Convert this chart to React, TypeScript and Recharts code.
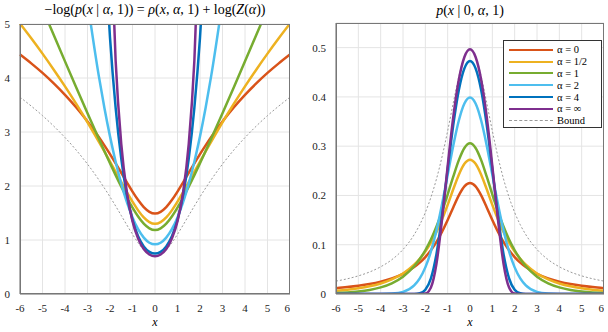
import { LineChart, Line, XAxis, YAxis, CartesianGrid } from 'recharts';

// x positions shared by both panels
const xs = [-6, -5.5, -5, -4.5, -4, -3.5, -3, -2.5, -2.25, -2, -1.75, -1.5, -1.25, -1, -0.75, -0.5, -0.25, 0,
  0.25, 0.5, 0.75, 1, 1.25, 1.5, 1.75, 2, 2.25, 2.5, 3, 3.5, 4, 4.5, 5, 5.5, 6];

// left panel: negative log likelihood
const nll0 = [4.435, 4.271, 4.094, 3.9, 3.688, 3.455, 3.196, 2.908, 2.753, 2.59, 2.42, 2.245, 2.068, 1.896, 1.739, 1.609, 1.522, 1.491,
  1.522, 1.609, 1.739, 1.896, 2.068, 2.245, 2.42, 2.59, 2.753, 2.908, 3.196, 3.455, 3.688, 3.9, 4.094, 4.271, 4.435];
const nllHalf = [5.008, 4.735, 4.451, 4.154, 3.845, 3.52, 3.18, 2.823, 2.639, 2.452, 2.262, 2.072, 1.886, 1.709, 1.549, 1.418, 1.331, 1.3,
  1.331, 1.418, 1.549, 1.709, 1.886, 2.072, 2.262, 2.452, 2.639, 2.823, 3.18, 3.52, 3.845, 4.154, 4.451, 4.735, 5.008];
const nll1 = [6.268, 5.775, 5.284, 4.795, 4.308, 3.825, 3.347, 2.878, 2.647, 2.421, 2.201, 1.988, 1.786, 1.599, 1.435, 1.303, 1.216, 1.185,
  1.216, 1.303, 1.435, 1.599, 1.786, 1.988, 2.201, 2.421, 2.647, 2.878, 3.347, 3.825, 4.308, 4.795, 5.284, 5.775, 6.268];
const nll2 = [null, null, null, null, null, null, 5.419, 4.044, 3.45, 2.919, 2.45, 2.044, 1.7, 1.419, 1.2, 1.044, 0.95, 0.919,
  0.95, 1.044, 1.2, 1.419, 1.7, 2.044, 2.45, 2.919, 3.45, 4.044, 5.419, null, null, null, null, null, null];
const nll4 = [null, null, null, null, null, null, null, null, 6.484, 4.749, 3.453, 2.507, 1.835, 1.374, 1.07, 0.882, 0.781, 0.749,
  0.781, 0.882, 1.07, 1.374, 1.835, 2.507, 3.453, 4.749, 6.484, null, null, null, null, null, null, null, null];
const nllInf = [null, null, null, null, null, null, null, null, null, 7.089, 4.324, 2.78, 1.884, 1.349, 1.025, 0.833, 0.732, 0.7,
  0.732, 0.833, 1.025, 1.349, 1.884, 2.78, 4.324, 7.089, null, null, null, null, null, null, null, null, null];
const nllBound = [3.644, 3.48, 3.303, 3.109, 2.897, 2.664, 2.405, 2.117, 1.962, 1.799, 1.629, 1.454, 1.277, 1.106, 0.948, 0.818, 0.731, 0.7,
  0.731, 0.818, 0.948, 1.106, 1.277, 1.454, 1.629, 1.799, 1.962, 2.117, 2.405, 2.664, 2.897, 3.109, 3.303, 3.48, 3.644];

// right panel: densities
const p0 = [0.0118, 0.014, 0.0167, 0.0202, 0.025, 0.0316, 0.0409, 0.0546, 0.0637, 0.075, 0.0889, 0.1059, 0.1264, 0.1501, 0.1757, 0.2001, 0.2183, 0.2251,
  0.2183, 0.2001, 0.1757, 0.1501, 0.1264, 0.1059, 0.0889, 0.075, 0.0637, 0.0546, 0.0409, 0.0316, 0.025, 0.0202, 0.0167, 0.014, 0.0118];
const pHalf = [0.0067, 0.0088, 0.0117, 0.0157, 0.0214, 0.0296, 0.0416, 0.0594, 0.0714, 0.0861, 0.1041, 0.1259, 0.1517, 0.181, 0.2125, 0.2422, 0.2642, 0.2725,
  0.2642, 0.2422, 0.2125, 0.181, 0.1517, 0.1259, 0.1041, 0.0861, 0.0714, 0.0594, 0.0416, 0.0296, 0.0214, 0.0157, 0.0117, 0.0088, 0.0067];
const p1 = [0.0019, 0.0031, 0.0051, 0.0083, 0.0135, 0.0218, 0.0352, 0.0562, 0.0709, 0.0888, 0.1107, 0.137, 0.1676, 0.2021, 0.2381, 0.2717, 0.2964, 0.3057,
  0.2964, 0.2717, 0.2381, 0.2021, 0.1676, 0.137, 0.1107, 0.0888, 0.0709, 0.0562, 0.0352, 0.0218, 0.0135, 0.0083, 0.0051, 0.0031, 0.0019];
const p2 = [0, 0, 0, 0, 0.0001, 0.0009, 0.0044, 0.0175, 0.0317, 0.054, 0.0863, 0.1295, 0.1826, 0.242, 0.3011, 0.3521, 0.3867, 0.3989,
  0.3867, 0.3521, 0.3011, 0.242, 0.1826, 0.1295, 0.0863, 0.054, 0.0317, 0.0175, 0.0044, 0.0009, 0.0001, 0, 0, 0, 0];
const p4 = [0, 0, 0, 0, 0, 0, 0, 0.0002, 0.0015, 0.0087, 0.0316, 0.0815, 0.1596, 0.2531, 0.343, 0.414, 0.458, 0.4729,
  0.458, 0.414, 0.343, 0.2531, 0.1596, 0.0815, 0.0316, 0.0087, 0.0015, 0.0002, 0, 0, 0, 0, 0, 0, 0];
const pInf = [0, 0, 0, 0, 0, 0, 0, 0, 0, 0.0008, 0.0132, 0.062, 0.152, 0.2595, 0.3588, 0.4347, 0.481, 0.4966,
  0.481, 0.4347, 0.3588, 0.2595, 0.152, 0.062, 0.0132, 0.0008, 0, 0, 0, 0, 0, 0, 0, 0, 0];
const pBound = [0.0261, 0.0308, 0.0368, 0.0446, 0.0552, 0.0697, 0.0903, 0.1204, 0.1406, 0.1655, 0.1962, 0.2337, 0.2788, 0.3311, 0.3876, 0.4414, 0.4815, 0.4966,
  0.4815, 0.4414, 0.3876, 0.3311, 0.2788, 0.2337, 0.1962, 0.1655, 0.1406, 0.1204, 0.0903, 0.0697, 0.0552, 0.0446, 0.0368, 0.0308, 0.0261];

const xTicks = [-6, -5, -4, -3, -2, -1, 0, 1, 2, 3, 4, 5, 6];
const leftTicks = [0, 1, 2, 3, 4, 5];
const rightTicks = [0, 0.1, 0.2, 0.3, 0.4, 0.5];

const seriesKeys = ['a0', 'aHalf', 'a1', 'a2', 'a4', 'aInf'];
const seriesLabels = ['α = 0', 'α = 1/2', 'α = 1', 'α = 2', 'α = 4', 'α = ∞'];
const colors = ['#D95319', '#EDB120', '#77AC30', '#4DBEEE', '#0072BD', '#7E2F8E'];

const leftData = xs.map((x, i) => ({
  x, bound: nllBound[i], a0: nll0[i], aHalf: nllHalf[i], a1: nll1[i], a2: nll2[i], a4: nll4[i], aInf: nllInf[i],
}));
const rightData = xs.map((x, i) => ({
  x, bound: pBound[i], a0: p0[i], aHalf: pHalf[i], a1: p1[i], a2: p2[i], a4: p4[i], aInf: pInf[i],
}));

const FONT = '"Liberation Serif", "DejaVu Serif", serif';
const tick = { fontSize: 11, fill: '#222', fontFamily: FONT };

function Panel({ data, ticks, domain, yWidth, width, top }: any) {
  return (
    <LineChart width={width} height={332} data={data} margin={{ top, right: 0, left: 0, bottom: 0 }}>
      <CartesianGrid stroke="#e4e4e4" />
      <XAxis dataKey="x" type="number" domain={[-6, 6]} ticks={xTicks} height={38}
        tick={tick} tickLine={false} axisLine={{ stroke: '#777' }} tickMargin={4} />
      <YAxis type="number" domain={domain} ticks={ticks} allowDataOverflow width={yWidth}
        tick={tick} tickLine={false} axisLine={{ stroke: '#777' }} tickMargin={4} />
      <Line dataKey="bound" stroke="#999" strokeWidth={1} strokeDasharray="2 2" dot={false}
        type="monotone" isAnimationActive={false} />
      {seriesKeys.map((k, i) => (
        <Line key={k} dataKey={k} stroke={colors[i]} strokeWidth={2.5} dot={false}
          type="monotone" isAnimationActive={false} />
      ))}
    </LineChart>
  );
}

export default function App() {
  return (
    <div style={{ position: 'absolute', left: 0, top: 0, width: 608, height: 332, background: '#fff', fontFamily: FONT }}>
      <div style={{ position: 'absolute', left: 0, top: 0, width: 300 }}>
        <Panel data={leftData} ticks={leftTicks} domain={[0, 5]} yWidth={20} width={300 - 10} top={24} />
      </div>
      <div style={{ position: 'absolute', left: 310, top: 0 }}>
        <Panel data={rightData} ticks={rightTicks} domain={[0, 0.55]} yWidth={26} width={294} top={23} />
      </div>
      {/* box frames */}
      <div style={{ position: 'absolute', left: 20, top: 24, width: 270, height: 270, border: '1px solid #777', boxSizing: 'border-box', pointerEvents: 'none' }} />
      <div style={{ position: 'absolute', left: 336, top: 23, width: 268, height: 271, border: '1px solid #777', boxSizing: 'border-box', pointerEvents: 'none' }} />
      {/* titles */}
      <div style={{ position: 'absolute', left: 20, width: 270, top: 2, textAlign: 'center', fontSize: 14, whiteSpace: 'nowrap' }}>
        −log(<i>p</i>(<i>x</i> | <i>α</i>, 1)) = <i>ρ</i>(<i>x</i>, <i>α</i>, 1) + log(<i>Z</i>(<i>α</i>))
      </div>
      <div style={{ position: 'absolute', left: 336, width: 268, top: 3, textAlign: 'center', fontSize: 14 }}>
        <i>p</i>(<i>x</i> | 0, <i>α</i>, 1)
      </div>
      <div style={{ position: 'absolute', left: 20, width: 270, top: 315, lineHeight: '14px', textAlign: 'center', fontSize: 12 }}><i>x</i></div>
      <div style={{ position: 'absolute', left: 336, width: 268, top: 315, lineHeight: '14px', textAlign: 'center', fontSize: 12 }}><i>x</i></div>
      {/* legend */}
      <div style={{ position: 'absolute', left: 503, top: 40, width: 99, height: 88, border: '1px solid #333', background: '#fff', boxSizing: 'border-box', padding: '3px 0 0 5px' }}>
        {seriesLabels.map((s, i) => (
          <div key={s} style={{ display: 'flex', alignItems: 'center', height: 11.8, fontSize: 10.5 }}>
            <span style={{ width: 44, height: 0, borderTop: `2.5px solid ${colors[i]}`, marginRight: 4 }} />
            <span>{s}</span>
          </div>
        ))}
        <div style={{ display: 'flex', alignItems: 'center', height: 11.8, fontSize: 10.5 }}>
          <span style={{ width: 44, height: 0, borderTop: '1px dashed #999', marginRight: 4 }} />
          <span>Bound</span>
        </div>
      </div>
    </div>
  );
}
